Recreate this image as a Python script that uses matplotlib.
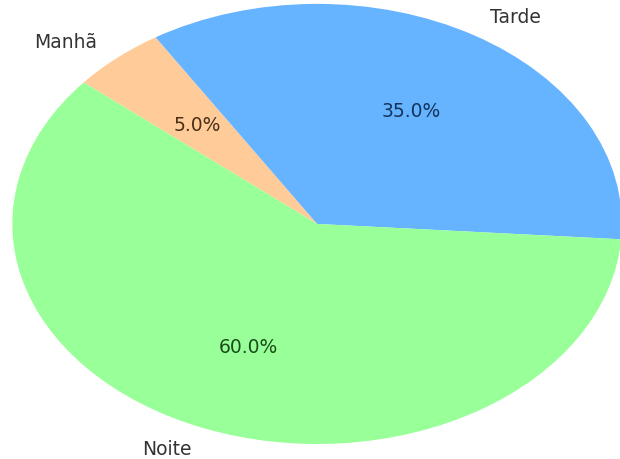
import matplotlib.pyplot as plt

# dados
labels = ['Manhã', 'Tarde', 'Noite']
values = [5, 35, 60]
colors = ['#ffcc99', '#66b3ff', '#99ff99']
pct_colors = ['#4a3018', '#14345c', '#1a4d1a']

fig = plt.figure(figsize=[6.2, 4.6], dpi=100)
# eixo maior que a figura: a pizza fica esticada e cortada na direita
ax = fig.add_axes([-0.103, -0.087, 1.229, 1.196])

wedges, texts, autotexts = ax.pie(values, labels=labels, colors=colors,
                                  autopct='%1.1f%%', startangle=140,
                                  counterclock=False,
                                  textprops={'fontsize': 13.5})
ax.set_aspect('auto')
ax.set_xlim(-1.25, 1.25)
ax.set_ylim(-1.25, 1.25)

for t in texts:
    t.set_color('#333333')
for t, c in zip(autotexts, pct_colors):
    t.set_color(c)

fig.savefig('out.png', dpi=100)
